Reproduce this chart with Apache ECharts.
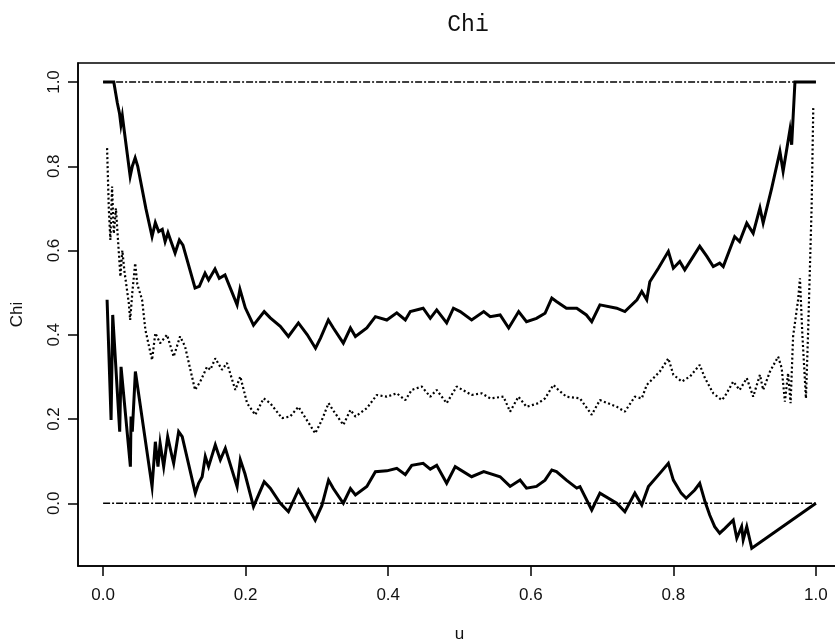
<!DOCTYPE html>
<html>
<head>
<meta charset="utf-8">
<title>Chi</title>
<script src="https://cdn.jsdelivr.net/npm/echarts@6/dist/echarts.min.js"></script>
<style>
  html, body { margin: 0; padding: 0; background: #fff; }
  #chart { width: 835px; height: 643px; }
</style>
</head>
<body>
<div id="chart"></div>
<script>
// tick values
var xTicks = [0, 0.2, 0.4, 0.6, 0.8, 1.0];
var yTicks = [0, 0.2, 0.4, 0.6, 0.8, 1.0];

// reference lines (chi = 0 and chi = 1)
var uRef = [0, 1];
var refZero = [0, 0];
var refOne = [1, 1];

// upper bound (solid)
var uUpper = [0, 0.015, 0.020, 0.023, 0.025, 0.027, 0.030, 0.038, 0.041, 0.045, 0.0486, 0.060, 0.0687, 0.0733, 0.078, 0.083, 0.087, 0.091, 0.101, 0.107, 0.112, 0.129, 0.135, 0.143, 0.148, 0.157, 0.163, 0.171, 0.188, 0.192, 0.1995, 0.211, 0.226, 0.2345, 0.2486, 0.260, 0.274, 0.2865, 0.298, 0.305, 0.316, 0.323, 0.337, 0.347, 0.354, 0.370, 0.382, 0.398, 0.412, 0.424, 0.431, 0.449, 0.459, 0.468, 0.482, 0.4915, 0.501, 0.517, 0.534, 0.543, 0.557, 0.569, 0.583, 0.594, 0.608, 0.620, 0.6295, 0.636, 0.650, 0.6645, 0.678, 0.6855, 0.697, 0.7206, 0.732, 0.749, 0.7557, 0.7627, 0.767, 0.779, 0.793, 0.800, 0.809, 0.816, 0.828, 0.837, 0.847, 0.856, 0.865, 0.870, 0.886, 0.893, 0.903, 0.912, 0.9215, 0.926, 0.938, 0.9495, 0.954, 0.9636, 0.966, 0.9706, 1.0];
var chiUpper = [1.0, 1.0, 0.95, 0.926, 0.899, 0.92, 0.88, 0.776, 0.80, 0.82, 0.80, 0.70, 0.633, 0.666, 0.645, 0.65, 0.621, 0.642, 0.594, 0.625, 0.613, 0.511, 0.515, 0.546, 0.530, 0.556, 0.534, 0.542, 0.471, 0.508, 0.464, 0.423, 0.455, 0.44, 0.42, 0.396, 0.428, 0.40, 0.368, 0.392, 0.435, 0.416, 0.38, 0.416, 0.396, 0.416, 0.443, 0.435, 0.452, 0.435, 0.455, 0.463, 0.439, 0.459, 0.428, 0.463, 0.455, 0.435, 0.455, 0.443, 0.447, 0.416, 0.455, 0.431, 0.439, 0.451, 0.487, 0.479, 0.463, 0.463, 0.447, 0.431, 0.471, 0.463, 0.455, 0.483, 0.503, 0.483, 0.526, 0.558, 0.598, 0.558, 0.574, 0.554, 0.586, 0.610, 0.586, 0.562, 0.570, 0.562, 0.633, 0.621, 0.665, 0.641, 0.701, 0.665, 0.748, 0.835, 0.788, 0.887, 0.851, 1.0, 1.0];

// estimate (dotted)
var uMid = [0.0056, 0.0080, 0.0102, 0.0126, 0.015, 0.018, 0.0243, 0.027, 0.030, 0.036, 0.038, 0.041, 0.045, 0.048, 0.0547, 0.0593, 0.0687, 0.0733, 0.080, 0.0897, 0.099, 0.108, 0.115, 0.129, 0.1364, 0.1458, 0.1505, 0.1574, 0.1668, 0.1738, 0.1855, 0.1925, 0.202, 0.2135, 0.2252, 0.2345, 0.251, 0.2625, 0.274, 0.2976, 0.307, 0.3163, 0.323, 0.337, 0.347, 0.354, 0.370, 0.384, 0.398, 0.412, 0.424, 0.433, 0.447, 0.459, 0.468, 0.482, 0.496, 0.517, 0.531, 0.543, 0.5617, 0.571, 0.5827, 0.594, 0.6107, 0.620, 0.6317, 0.6387, 0.650, 0.669, 0.6855, 0.697, 0.7206, 0.732, 0.746, 0.7557, 0.7627, 0.781, 0.793, 0.800, 0.812, 0.8234, 0.837, 0.8444, 0.856, 0.868, 0.872, 0.884, 0.893, 0.903, 0.912, 0.9215, 0.926, 0.9355, 0.947, 0.952, 0.9565, 0.961, 0.9645, 0.968, 0.975, 0.9776, 0.981, 0.986, 0.989, 0.994, 0.9963];
var chiMid = [0.843, 0.70, 0.625, 0.752, 0.64, 0.70, 0.538, 0.60, 0.55, 0.476, 0.435, 0.50, 0.570, 0.52, 0.483, 0.412, 0.340, 0.404, 0.380, 0.40, 0.348, 0.396, 0.372, 0.269, 0.289, 0.324, 0.317, 0.344, 0.317, 0.333, 0.269, 0.301, 0.2375, 0.21, 0.249, 0.2375, 0.202, 0.206, 0.229, 0.166, 0.198, 0.2375, 0.22, 0.186, 0.2216, 0.206, 0.2257, 0.257, 0.253, 0.261, 0.245, 0.269, 0.277, 0.253, 0.269, 0.2375, 0.277, 0.257, 0.261, 0.249, 0.253, 0.2176, 0.253, 0.229, 0.2375, 0.249, 0.281, 0.269, 0.253, 0.249, 0.21, 0.245, 0.229, 0.2176, 0.253, 0.249, 0.281, 0.3125, 0.344, 0.305, 0.289, 0.301, 0.3285, 0.297, 0.261, 0.245, 0.253, 0.289, 0.269, 0.297, 0.253, 0.305, 0.269, 0.3125, 0.348, 0.321, 0.241, 0.309, 0.2375, 0.396, 0.483, 0.534, 0.40, 0.249, 0.404, 0.704, 0.938];

// lower bound (solid)
var uLower = [0.0056, 0.0112, 0.0135, 0.0233, 0.0252, 0.0383, 0.0392, 0.041, 0.0453, 0.0687, 0.0733, 0.077, 0.080, 0.085, 0.0906, 0.0967, 0.099, 0.106, 0.111, 0.1294, 0.134, 0.139, 0.1434, 0.148, 0.1574, 0.1645, 0.1715, 0.188, 0.1925, 0.199, 0.211, 0.226, 0.2345, 0.2486, 0.260, 0.274, 0.2976, 0.307, 0.3163, 0.323, 0.337, 0.347, 0.354, 0.370, 0.382, 0.398, 0.412, 0.424, 0.433, 0.449, 0.459, 0.468, 0.482, 0.494, 0.517, 0.534, 0.557, 0.571, 0.585, 0.594, 0.608, 0.620, 0.6295, 0.636, 0.650, 0.6645, 0.669, 0.6855, 0.697, 0.7206, 0.732, 0.746, 0.7557, 0.765, 0.781, 0.793, 0.800, 0.811, 0.818, 0.830, 0.837, 0.8444, 0.851, 0.858, 0.865, 0.872, 0.884, 0.889, 0.8958, 0.898, 0.903, 0.910, 1.0];
var chiLower = [0.483, 0.198, 0.447, 0.170, 0.324, 0.087, 0.206, 0.17, 0.3126, 0.0395, 0.146, 0.087, 0.1425, 0.087, 0.158, 0.111, 0.095, 0.170, 0.158, 0.024, 0.0475, 0.063, 0.111, 0.087, 0.1385, 0.103, 0.1306, 0.0395, 0.103, 0.07, -0.008, 0.051, 0.0356, 0.0, -0.020, 0.0316, -0.04, -0.005, 0.055, 0.035, 0.0, 0.035, 0.02, 0.04, 0.075, 0.077, 0.083, 0.068, 0.09, 0.095, 0.081, 0.09, 0.0475, 0.087, 0.063, 0.075, 0.063, 0.04, 0.055, 0.036, 0.04, 0.055, 0.079, 0.075, 0.055, 0.036, 0.0395, -0.016, 0.024, 0.0, -0.02, 0.024, -0.004, 0.0395, 0.071, 0.095, 0.055, 0.024, 0.012, 0.0316, 0.0475, 0.004, -0.028, -0.0556, -0.071, -0.06, -0.04, -0.083, -0.0556, -0.087, -0.0556, -0.107, 0.0];

function pairs(xs, ys) {
    var out = [];
    for (var i = 0; i < xs.length; i++) {
        out.push([xs[i], ys[i]]);
    }
    return out;
}

var myChart = echarts.init(document.getElementById('chart'));

var sansFont = '"Liberation Sans", Arial, sans-serif';

var option = {
    backgroundColor: '#ffffff',
    animation: false,
    title: {
        text: 'Chi',
        left: 463,
        top: 8,
        textAlign: 'center',
        textStyle: {
            fontFamily: '"Liberation Mono", "Courier New", monospace',
            fontWeight: 'normal',
            fontSize: 23,
            color: '#111'
        }
    },
    grid: {
        left: 78,
        top: 63,
        width: 763,
        height: 503,
        outerBoundsMode: 'none',
        containLabel: false,
        show: true,
        borderColor: '#000',
        borderWidth: 1.5,
        backgroundColor: 'transparent'
    },
    xAxis: {
        type: 'value',
        min: -0.0352,
        max: 1.0352,
        name: 'u',
        nameLocation: 'middle',
        nameGap: 60,
        nameTextStyle: { fontFamily: sansFont, fontSize: 17, color: '#111' },
        splitLine: { show: false },
        axisLine: { show: true, onZero: false, lineStyle: { color: '#000', width: 1.5 } },
        axisTick: {
            show: true,
            inside: false,
            length: 10,
            customValues: xTicks,
            lineStyle: { color: '#000', width: 1.5 }
        },
        axisLabel: {
            customValues: xTicks,
            margin: 21,
            fontFamily: sansFont,
            fontSize: 17,
            color: '#111',
            formatter: function (v) { return v.toFixed(1); }
        }
    },
    yAxis: {
        type: 'value',
        min: -0.1489,
        max: 1.0451,
        name: 'Chi',
        nameLocation: 'middle',
        nameGap: 52,
        nameRotate: 90,
        nameTextStyle: { fontFamily: sansFont, fontSize: 17, color: '#111' },
        splitLine: { show: false },
        axisLine: { show: true, onZero: false, lineStyle: { color: '#000', width: 1.5 } },
        axisTick: {
            show: true,
            inside: false,
            length: 10,
            customValues: yTicks,
            lineStyle: { color: '#000', width: 1.5 }
        },
        axisLabel: {
            customValues: yTicks,
            rotate: 90,
            margin: 15,
            fontFamily: sansFont,
            fontSize: 17,
            color: '#111',
            formatter: function (v) { return v.toFixed(1); }
        }
    },
    series: [
        {
            name: 'ref1',
            type: 'line',
            data: pairs(uRef, refOne),
            symbol: 'none',
            lineStyle: { color: '#000', width: 1.6, type: [7, 2, 2, 2] },
            z: 1
        },
        {
            name: 'ref0',
            type: 'line',
            data: pairs(uRef, refZero),
            symbol: 'none',
            lineStyle: { color: '#000', width: 1.6, type: [7, 2, 2, 2] },
            z: 1
        },
        {
            name: 'upper',
            type: 'line',
            data: pairs(uUpper, chiUpper),
            symbol: 'none',
            lineStyle: { color: '#000', width: 3, join: 'miter' },
            z: 3
        },
        {
            name: 'chi',
            type: 'line',
            data: pairs(uMid, chiMid),
            symbol: 'none',
            lineStyle: { color: '#000', width: 2.2, type: [2, 2.5], cap: 'butt' },
            z: 2
        },
        {
            name: 'lower',
            type: 'line',
            data: pairs(uLower, chiLower),
            symbol: 'none',
            lineStyle: { color: '#000', width: 3, join: 'miter' },
            z: 3
        }
    ]
};

myChart.setOption(option, true);
</script>
</body>
</html>
